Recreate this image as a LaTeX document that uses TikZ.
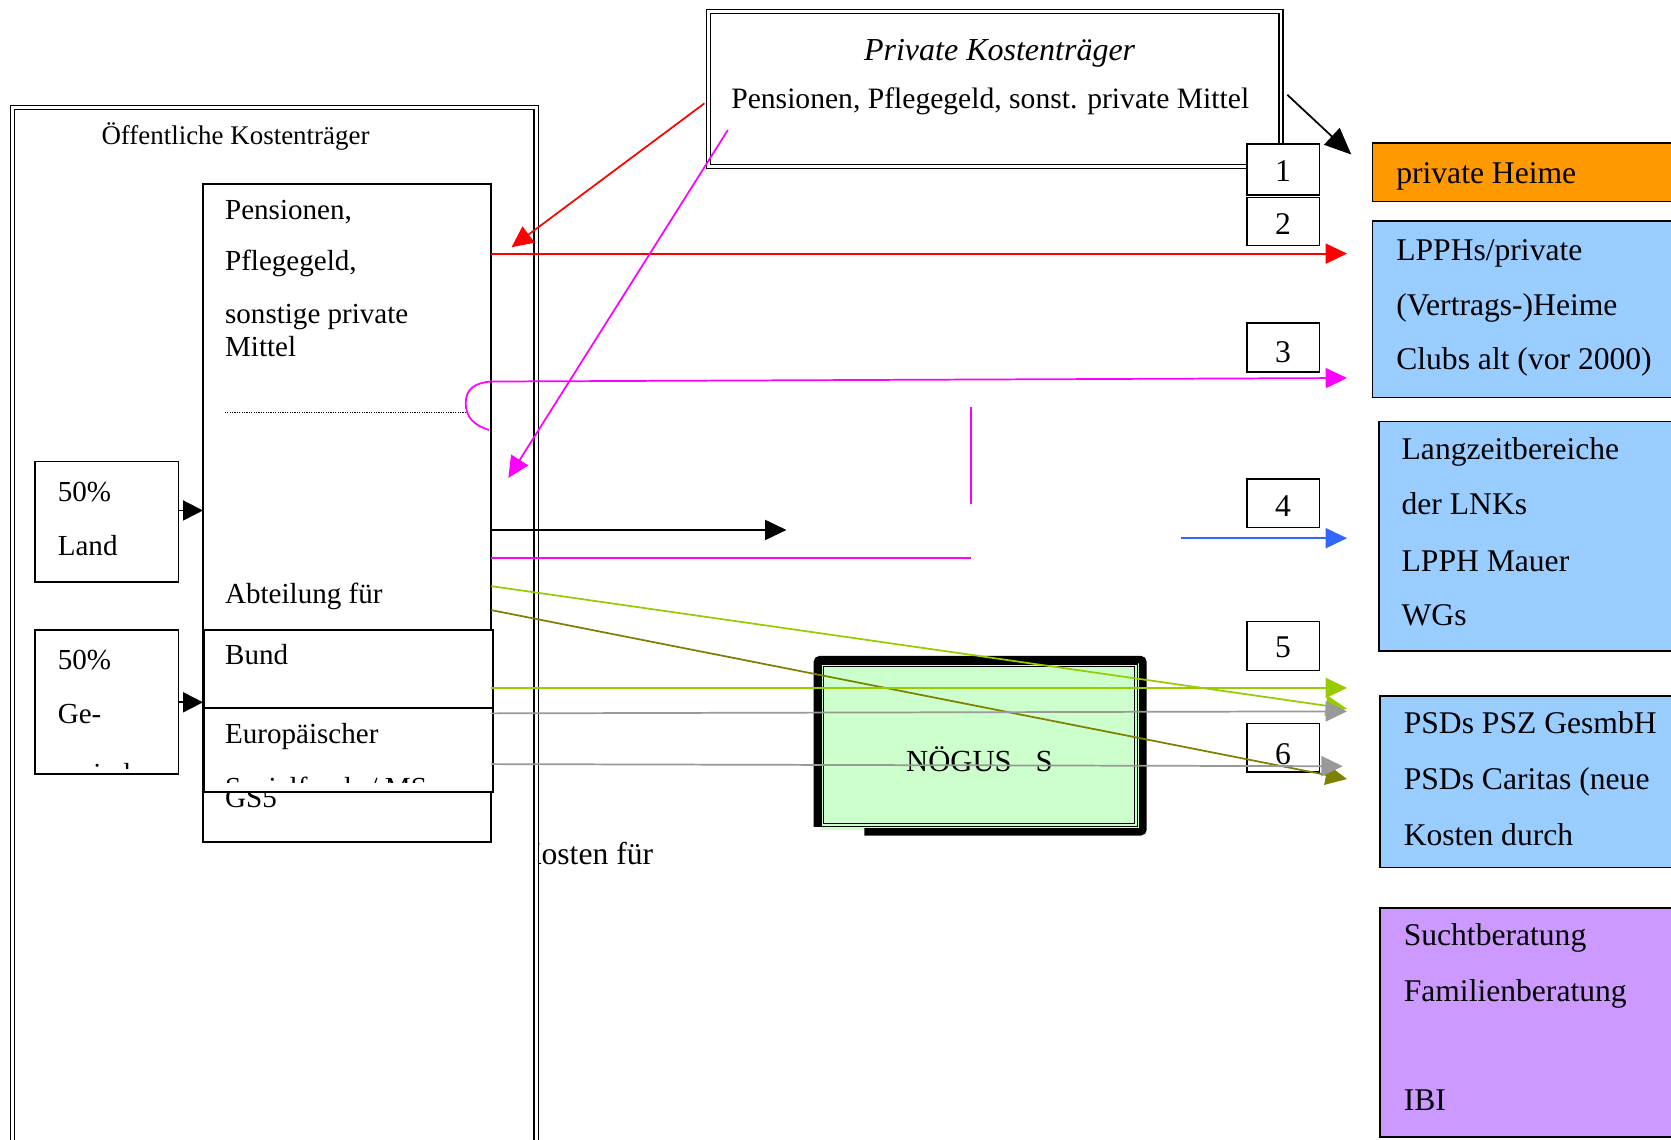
\documentclass[tikz,border=0pt]{standalone}
\usepackage{fontspec}
\setmainfont{Liberation Serif}
\usetikzlibrary{arrows.meta}

\definecolor{heimorange}{HTML}{FF9900}
\definecolor{boxblue}{HTML}{99CCFF}
\definecolor{boxlilac}{HTML}{CC99FF}
\definecolor{noegusgreen}{HTML}{CCFFCC}
\definecolor{flowred}{HTML}{FF0000}
\definecolor{flowmagenta}{HTML}{FF00FF}
\definecolor{flowblue}{HTML}{3366FF}
\definecolor{flowlime}{HTML}{99CC00}
\definecolor{flowolive}{HTML}{808000}
\definecolor{flowgrey}{HTML}{999999}

\tikzset{
  wh/.style 2 args={minimum width={(#1)*0.7993pt}, minimum height={(#2)*0.7993pt}},
  boxnode/.style={anchor=north west, inner sep=0pt, outer sep=0pt, fill=white, draw, line width=1.4pt},
  numbox/.style={boxnode, line width=1.2pt},
  colbox/.style={boxnode, line width=1.2pt, fill=#1},
  dblbox/.style={anchor=north west, inner sep=0pt, outer sep=0pt, fill=white, draw,
                 line width=0.9pt, double=white, double distance=2.2pt},
  lbl/.style={inner sep=0pt, anchor=base west, font=\fontsize{21.8}{26}\selectfont},
  rlbl/.style={inner sep=0pt, anchor=base west, font=\fontsize{23.7}{28}\selectfont},
  digit/.style={inner sep=0pt, anchor=base, font=\fontsize{23.7}{28}\selectfont},
  flow/.style={line width=1.3pt, draw=#1, -{Triangle[length=16pt,width=15pt]}},
  plainflow/.style={line width=1.3pt, draw=#1},
}

\begin{document}
\begin{tikzpicture}[x=0.7993pt, y=-0.7993pt]
\clip (0,0) rectangle (1568,1069);
\fill[white] (0,0) rectangle (1568,1069);

% text partly hidden behind the public funding frame
\node[rlbl] (kosten) at (486.6,811) {Kosten für};

% public funding frame
\node[dblbox, wh={491}{1000}] (pub) at (12,101) {};
\node[inner sep=0pt, anchor=base west, font=\fontsize{20.2}{24}\selectfont] (pubtitle) at (95,136) {Öffentliche Kostenträger};

% main column of public funding sources
\node[boxnode, wh={270.6}{617.2}] (inner) at (190.4,172.6) {};
\node[lbl] (t1) at (211,206.4) {Pensionen,};
\node[lbl] (t2) at (211,253.4) {Pflegegeld,};
\node[lbl] (t3) at (211,303.4) {sonstige private};
\node[lbl] (t4) at (211,334.7) {Mittel};
\coordinate (dotA) at (211,387);
\coordinate (dotB) at (438,387);
\draw[line width=0.7pt, dash pattern=on 0.9pt off 0.9pt] (dotA) -- (dotB);
\node[lbl] (t5) at (211,566) {Abteilung für};
\node[lbl] (gs5) at (211,758) {GS5};

% Land / Gemeinden shares
\node[boxnode, wh={135}{113}] (land) at (32.5,433) {};
\node[lbl] (land1) at (54,470.7) {50\%};
\node[lbl] (land2) at (54,520.8) {Land};
\node[boxnode, wh={135}{135}] (ge) at (32.5,591) {};
\node[lbl] (ge1) at (54,627.8) {50\%};
\node[lbl] (ge2) at (54,678.6) {Ge-};
\begin{scope}
  \clip (33,592) rectangle (167,721);
  \node[lbl] (ge3) at (54,735) {meinden};
\end{scope}

% Bund and ESF
\node[boxnode, wh={271}{73}] (bund) at (191.7,591) {};
\node[lbl] (bundt) at (211,624) {Bund};
\node[boxnode, wh={271}{79}] (europ) at (191.7,664) {};
\node[lbl] (europt) at (211,697.5) {Europäischer};
\begin{scope}
  \clip (193,665) rectangle (462,734);
  \node[lbl] (sozf) at (211,748) {Sozialfonds / MS};
\end{scope}

% private funding frame
\node[dblbox, wh={537}{145}] (priv) at (665,11) {};
\node[inner sep=0pt, anchor=base, font=\fontsize{24}{28}\itshape] (privtitle) at (938,57) {Private Kostenträger};
\node[lbl, font=\fontsize{22.2}{26}\selectfont] (privtext) at (686,101.7) {Pensionen, Pflegegeld, sonst. private Mittel};

% NÖGUS block
\fill[noegusgreen] (769,621) rectangle (1070,779);
\draw[line width=5.6pt, rounded corners=2pt] (767,776) -- (767,619) -- (1072.5,619) -- (1072.5,780.5) -- (811,780.5);
\draw[line width=0.9pt] (770.6,623) rectangle (1067,775.7);
\draw[line width=0.9pt] (772.8,625.2) rectangle (1064.8,772.5);
\node[inner sep=0pt, anchor=base west, font=\fontsize{23}{27}\selectfont] (noegus) at (850,724) {NÖGUS\hspace{18pt}S};

% service providers
\node[colbox=heimorange, wh={300}{55}] (heime) at (1288,134) {};
\node[rlbl] (heimet) at (1310,172) {private Heime};
\node[colbox=boxblue, wh={300}{165.5}] (lpph) at (1288,207.5) {};
\node[rlbl] (lp1) at (1310,244) {LPPHs/private};
\node[rlbl] (lp2) at (1310,295.6) {(Vertrags-)Heime};
\node[rlbl] (lp3) at (1310,346.5) {Clubs alt (vor 2000)};
\node[colbox=boxblue, wh={300}{215.5}] (lzb) at (1294,395.5) {};
\node[rlbl] (lz1) at (1315,431) {Langzeitbereiche};
\node[rlbl] (lz2) at (1315,483) {der LNKs};
\node[rlbl] (lz3) at (1315,536) {LPPH Mauer};
\node[rlbl] (lz4) at (1315,587) {WGs};
\node[colbox=boxblue, wh={300}{161}] (psd) at (1295,653) {};
\node[rlbl] (ps1) at (1317,688) {PSDs PSZ GesmbH};
\node[rlbl] (ps2) at (1317,741) {PSDs Caritas (neue};
\node[rlbl] (ps3) at (1317,793.6) {Kosten durch};
\node[colbox=boxlilac, wh={300}{215}] (sucht) at (1295,852) {};
\node[rlbl] (su1) at (1317,887) {Suchtberatung};
\node[rlbl] (su2) at (1317,940) {Familienberatung};
\node[rlbl] (su3) at (1317,1042) {IBI};

% numbered flow markers
\node[numbox, wh={68}{48}] (n1) at (1170,135) {};
\node[digit] at (1204,170.5) {1};
\node[numbox, wh={68}{45}] (n2) at (1170,185.5) {};
\node[digit] at (1204,219.6) {2};
\node[numbox, wh={68}{46}] (n3) at (1170,303) {};
\node[digit] at (1204,340) {3};
\node[numbox, wh={68}{45.5}] (n4) at (1170,449.5) {};
\node[digit] at (1204,484.2) {4};
\node[numbox, wh={68}{46}] (n5) at (1170,583) {};
\node[digit] at (1204,617) {5};
\node[numbox, wh={68}{45.5}] (n6) at (1170,679) {};
\node[digit] at (1204,717) {6};

% connector end points
\coordinate (privR) at (1208,89);
\coordinate (heimeIn) at (1268,145);
\coordinate (privL) at (661,97);
\coordinate (innerTop) at (480,232);
\coordinate (redOut) at (461,238);
\coordinate (lpphIn) at (1264,238);
\coordinate (privM) at (683,122);
\coordinate (innerMid) at (477,448.5);
\coordinate (magLoopA) at (459,403.5);
\coordinate (magLoopB) at (461,358);
\coordinate (clubsIn) at (1264,354.7);
\coordinate (magVa) at (911,382);
\coordinate (magVb) at (911,472.5);
\coordinate (magLa) at (461,523.3);
\coordinate (magLb) at (911,523.3);
\coordinate (blkA) at (461,497.3);
\coordinate (blkB) at (738,497.3);
\coordinate (bluA) at (1108,505);
\coordinate (bluB) at (1264,505);
\coordinate (limeA) at (461,550);
\coordinate (limeB) at (1264,665);
\coordinate (oliveA) at (461,572.5);
\coordinate (oliveB) at (1264,731);
\coordinate (limeHA) at (461,645.5);
\coordinate (limeHB) at (1264,645.5);
\coordinate (greyA) at (461,669.4);
\coordinate (greyB) at (1264,667.5);
\coordinate (greyC) at (461,717);
\coordinate (greyD) at (1260,719);
\coordinate (landOut) at (168,479);
\coordinate (landIn) at (190.5,479);
\coordinate (geOut) at (168,659);
\coordinate (geIn) at (190.5,659);

% connectors
\draw[line width=1.3pt, -{Triangle[length=15pt,width=15pt]}] (landOut) -- (landIn);
\draw[line width=1.3pt, -{Triangle[length=15pt,width=15pt]}] (geOut) -- (geIn);
\draw[line width=1.3pt, -{Triangle[length=20pt,width=17pt]}] (privR) -- (heimeIn);
\draw[flow=flowred] (privL) -- (innerTop);
\draw[flow=flowred] (redOut) -- (lpphIn);
\draw[flow=flowmagenta] (privM) -- (innerMid);
\draw[flow=flowmagenta] (magLoopA) .. controls (445,399) and (437,392) .. (437,378)
   .. controls (437,365) and (446,359) .. (magLoopB) -- (clubsIn);
\draw[plainflow=flowmagenta] (magVa) -- (magVb);
\draw[plainflow=flowmagenta] (magLa) -- (magLb);
\draw[flow=black] (blkA) -- (blkB);
\draw[flow=flowblue] (bluA) -- (bluB);
\draw[flow=flowlime] (limeA) -- (limeB);
\draw[flow=flowolive] (oliveA) -- (oliveB);
\draw[flow=flowlime] (limeHA) -- (limeHB);
\draw[flow=flowgrey] (greyA) -- (greyB);
\draw[flow=flowgrey] (greyC) -- (greyD);
\end{tikzpicture}
\end{document}
